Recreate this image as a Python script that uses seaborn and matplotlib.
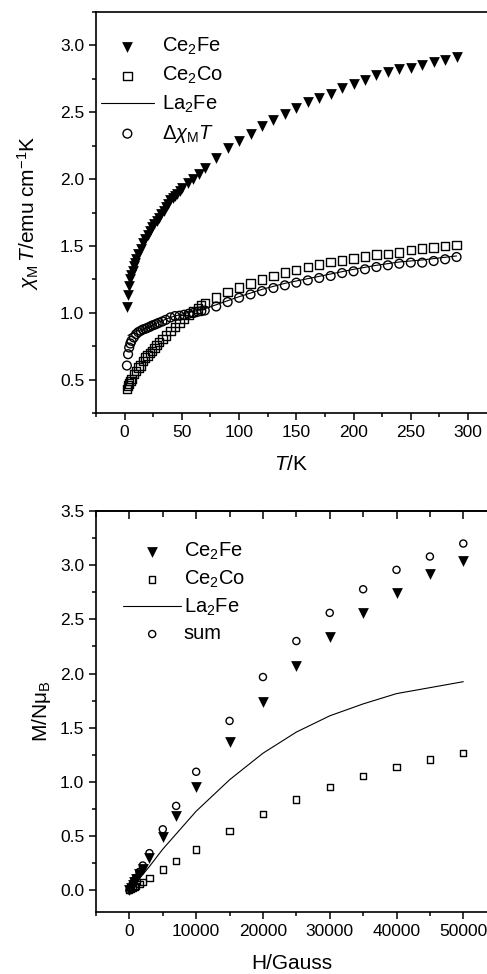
import numpy as np
import pandas as pd
import seaborn as sns
import matplotlib
matplotlib.use("Agg")
import matplotlib.pyplot as plt
from matplotlib.ticker import MultipleLocator, NullFormatter

# ---- top panel: chi_M T vs T ----
T_fe = [2, 3, 4, 5, 6, 7, 8, 9, 10, 12, 14, 16, 18, 20, 22, 24, 26, 28, 30, 32, 34,
        36, 38, 40, 42, 44, 46, 48, 50, 55, 60, 65, 70, 80, 90, 100, 110, 120, 130,
        140, 150, 160, 170, 180, 190, 200, 210, 220, 230, 240, 250, 260, 270, 280, 290]
chi_fe = [1.04, 1.13, 1.20, 1.25, 1.28, 1.31, 1.35, 1.37, 1.40, 1.44, 1.48, 1.52, 1.55,
          1.58, 1.61, 1.64, 1.665, 1.685, 1.71, 1.74, 1.76, 1.79, 1.81, 1.84, 1.86, 1.875,
          1.89, 1.91, 1.93, 1.97, 2.00, 2.04, 2.08, 2.155, 2.235, 2.285, 2.335, 2.395,
          2.445, 2.485, 2.53, 2.575, 2.61, 2.64, 2.68, 2.715, 2.745, 2.78, 2.80, 2.82,
          2.83, 2.855, 2.873, 2.893, 2.917]

T_co = [2, 3, 4, 5, 6, 8, 10, 12, 14, 16, 18, 20, 22, 24, 26, 28, 30, 33, 36, 40, 44,
        48, 52, 56, 60, 64, 67, 70, 80, 90, 100, 110, 120, 130, 140, 150, 160, 170,
        180, 190, 200, 210, 220, 230, 240, 250, 260, 270, 280, 290]
chi_co = [0.43, 0.455, 0.47, 0.49, 0.505, 0.54, 0.565, 0.59, 0.605, 0.64, 0.665, 0.68,
          0.70, 0.715, 0.735, 0.76, 0.78, 0.805, 0.83, 0.865, 0.895, 0.925, 0.955, 0.985,
          1.01, 1.033, 1.056, 1.075, 1.115, 1.155, 1.19, 1.22, 1.25, 1.275, 1.30, 1.32,
          1.34, 1.36, 1.38, 1.39, 1.405, 1.42, 1.435, 1.44, 1.45, 1.467, 1.48, 1.487,
          1.50, 1.505]
chi_delta = [0.605, 0.69, 0.74, 0.77, 0.79, 0.815, 0.84, 0.855, 0.865, 0.875, 0.88,
             0.887, 0.895, 0.904, 0.91, 0.917, 0.925, 0.935, 0.947, 0.965, 0.975, 0.978,
             0.985, 0.993, 0.998, 1.008, 1.012, 1.017, 1.047, 1.08, 1.112, 1.137, 1.162,
             1.185, 1.205, 1.225, 1.242, 1.26, 1.275, 1.297, 1.31, 1.325, 1.342, 1.355,
             1.367, 1.375, 1.375, 1.387, 1.40, 1.417]

T_la = [3, 5, 10, 15, 20, 30, 40, 50, 60, 70, 80, 90, 100, 120, 140, 160, 180, 200,
        220, 240, 260, 280, 290]
chi_la = [0.83, 0.84, 0.86, 0.875, 0.89, 0.93, 0.965, 0.99, 1.01, 1.03, 1.06, 1.09,
          1.12, 1.175, 1.22, 1.255, 1.29, 1.325, 1.355, 1.38, 1.395, 1.415, 1.425]

# ---- bottom panel: M vs H ----
H = [0, 250, 500, 750, 1000, 1500, 2000, 3000, 5000, 7000, 10000, 15000, 20000,
     25000, 30000, 35000, 40000, 45000, 50000]
M_fe = [0, 0.025, 0.05, 0.075, 0.10, 0.15, 0.198, 0.30, 0.49, 0.683, 0.955, 1.372,
        1.742, 2.067, 2.34, 2.56, 2.747, 2.917, 3.04]
M_co = [0, 0.01, 0.02, 0.028, 0.037, 0.055, 0.074, 0.115, 0.192, 0.269, 0.377, 0.547,
        0.702, 0.838, 0.955, 1.057, 1.14, 1.208, 1.27]
M_sum = [0, 0.03, 0.06, 0.09, 0.115, 0.17, 0.229, 0.343, 0.563, 0.779, 1.094, 1.563,
         1.968, 2.30, 2.56, 2.778, 2.957, 3.08, 3.20]
H_la = [0, 1000, 2000, 3000, 5000, 7000, 10000, 15000, 20000, 25000, 30000, 35000,
        40000, 45000, 50000]
M_la = [0, 0.07, 0.145, 0.22, 0.38, 0.52, 0.73, 1.02, 1.265, 1.46, 1.61, 1.72, 1.815,
        1.87, 1.925]

sns.set_theme(style="ticks")
plt.rcParams["font.family"] = ["Liberation Sans", "DejaVu Sans"]
plt.rcParams["mathtext.fontset"] = "custom"
plt.rcParams["mathtext.rm"] = "Liberation Sans"
plt.rcParams["mathtext.it"] = "Liberation Sans:italic"
plt.rcParams["mathtext.bf"] = "Liberation Sans:bold"
plt.rcParams["axes.linewidth"] = 1.2
for k in ["text.color", "axes.labelcolor", "axes.edgecolor", "xtick.color", "ytick.color"]:
    plt.rcParams[k] = "black"

LABEL_FS = 15
TICK_FS = 12.5
LEG_FS = 14.5

fig = plt.figure(figsize=(4.87, 9.74), dpi=100)
ax1 = fig.add_axes([96 / 487, 1 - 413 / 974, 1 - 96 / 487, 401 / 974])
ax2 = fig.add_axes([96 / 487, 1 - 912 / 974, 1 - 96 / 487, 401 / 974])

# top
sns.scatterplot(x=T_fe, y=chi_fe, marker="v", s=60, color="black", linewidth=0,
                label="Ce$_2$Fe", ax=ax1, zorder=3)
sns.scatterplot(x=T_co, y=chi_co, marker="s", s=36, facecolor="none", edgecolor="black",
                linewidth=1.0, label="Ce$_2$Co", ax=ax1, zorder=3)
sns.lineplot(x=T_la, y=chi_la, color="black", linewidth=0.8, label="La$_2$Fe", ax=ax1)
sns.scatterplot(x=T_co, y=chi_delta, marker="o", s=40, facecolor="none", edgecolor="black",
                linewidth=1.0, label=r"$\Delta\chi_\mathrm{M}T$", ax=ax1, zorder=3)

ax1.set_xlim(-25, 316.6)
ax1.set_ylim(0.25, 3.25)
ax1.xaxis.set_major_locator(MultipleLocator(50))
ax1.xaxis.set_minor_locator(MultipleLocator(25))
ax1.yaxis.set_major_locator(MultipleLocator(0.5))
ax1.yaxis.set_minor_locator(MultipleLocator(0.25))
ax1.set_xlabel("$T$/K", fontsize=LABEL_FS)
ax1.set_ylabel(r"$\chi_\mathrm{M}\,T$/emu cm$^{-1}$K", fontsize=LABEL_FS)
ax1.xaxis.set_label_coords(0.5, -0.105)
ax1.yaxis.set_label_coords(-0.14, 0.5)
ax1.spines["right"].set_visible(False)
ax1.tick_params(which="both", direction="out", width=1.1, labelsize=TICK_FS)
ax1.tick_params(which="major", length=5)
ax1.tick_params(which="minor", length=3)
ax1.legend(loc="upper left", bbox_to_anchor=(0.012, 0.94), frameon=False,
           fontsize=LEG_FS, handlelength=2.65, handletextpad=0.4,
           labelspacing=0.38, borderpad=0, borderaxespad=0)

# bottom
sns.scatterplot(x=H, y=M_fe, marker="v", s=60, color="black", linewidth=0,
                label="Ce$_2$Fe", ax=ax2, zorder=3)
sns.scatterplot(x=H, y=M_co, marker="s", s=20, facecolor="none", edgecolor="black",
                linewidth=1.0, label="Ce$_2$Co", ax=ax2, zorder=3)
sns.lineplot(x=H_la, y=M_la, color="black", linewidth=0.8, label="La$_2$Fe", ax=ax2)
sns.scatterplot(x=H, y=M_sum, marker="o", s=26, facecolor="none", edgecolor="black",
                linewidth=1.0, label="sum", ax=ax2, zorder=3)

ax2.set_xlim(-5000, 53550)
ax2.set_ylim(-0.2, 3.5)
ax2.xaxis.set_major_locator(MultipleLocator(10000))
ax2.xaxis.set_minor_locator(MultipleLocator(5000))
ax2.yaxis.set_major_locator(MultipleLocator(0.5))
ax2.yaxis.set_minor_locator(MultipleLocator(0.25))
ax2.set_xlabel("H/Gauss", fontsize=LABEL_FS)
ax2.set_ylabel("M/Nμ$_\\mathrm{B}$", fontsize=LABEL_FS)
ax2.xaxis.set_label_coords(0.5, -0.105)
ax2.yaxis.set_label_coords(-0.11, 0.5)
ax2.spines["right"].set_visible(False)
ax2.tick_params(which="both", direction="out", width=1.1, labelsize=TICK_FS)
ax2.tick_params(which="major", length=5)
ax2.tick_params(which="minor", length=3)

# inward ticks along the top spine of the lower panel
top = ax2.secondary_xaxis("top")
top.xaxis.set_major_locator(MultipleLocator(10000))
top.xaxis.set_minor_locator(MultipleLocator(5000))
top.xaxis.set_major_formatter(NullFormatter())
top.tick_params(which="both", direction="in", width=1.1)
top.tick_params(which="major", length=6)
top.tick_params(which="minor", length=4)
top.spines["top"].set_linewidth(1.2)

ax2.legend(loc="upper left", bbox_to_anchor=(0.069, 0.925), frameon=False,
           fontsize=LEG_FS, handlelength=2.9, handletextpad=0.12,
           labelspacing=0.32, borderpad=0, borderaxespad=0)

fig.savefig("out.png", dpi=100)
